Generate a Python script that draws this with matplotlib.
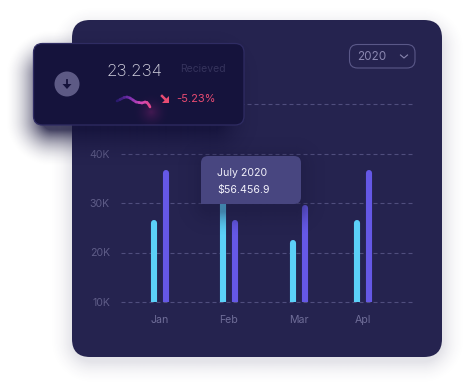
import numpy as np
import matplotlib
matplotlib.use('Agg')
import matplotlib.pyplot as plt
from matplotlib.collections import LineCollection
from matplotlib.colors import LinearSegmentedColormap
from matplotlib.patches import FancyBboxPatch, Circle, Polygon

plt.rcParams['font.family'] = ['Inter', 'DejaVu Sans']

# data
months = ['Jan', 'Feb', 'Mar', 'Apl']
cyan_vals = [26, 33, 22, 26]
purple_vals = [36, 26, 29, 36]
y_ticks = [10, 20, 30, 40, 50]
y_labels = ['10K', '20K', '30K', '40K', '50K']
year = '2020'
tip_title = 'July 2020'
tip_value = '$56.456.9'
card_value = '23.234'
card_label = 'Recieved'
card_change = '-5.23%'
squiggle_x = [117, 120, 124, 127, 130, 133, 136, 139, 142, 145, 147, 149, 150]
squiggle_y = [101, 99.5, 97.5, 97, 98, 100, 102, 102.5, 103, 102, 102.5, 105, 107]

# x centre of each month group, on the chart axis (same units as pixels)
group_x = [160, 229, 298.5, 363]
W, H = 465, 384
PANEL = '#25234f'
CARD = '#15133c'


def rr_dist(xx, yy, x0, y0, x1, y1, r):
    qx = np.abs(xx - (x0 + x1) / 2) - (x1 - x0) / 2 + r
    qy = np.abs(yy - (y0 + y1) / 2) - (y1 - y0) / 2 + r
    return np.hypot(np.maximum(qx, 0), np.maximum(qy, 0)) + np.minimum(np.maximum(qx, qy), 0) - r


def rounded(x0, y0, x1, y1, r, **kw):
    return FancyBboxPatch((x0 + r, y0 + r), x1 - x0 - 2 * r, y1 - y0 - 2 * r,
                          boxstyle='round,pad=%f,rounding_size=%f' % (r, r), **kw)


def overlay(ax, d, blur, alpha, color):
    a = alpha * np.clip(1 - d / blur, 0, 1) ** 2
    img = np.zeros((H, W, 4))
    img[..., :3] = matplotlib.colors.to_rgb(color)
    img[..., 3] = a
    ax.imshow(img, extent=(0, W, H, 0), zorder=1, interpolation='bilinear')


fig = plt.figure(figsize=(W / 100, H / 100), dpi=100, facecolor='white')
yy, xx = np.mgrid[0:H, 0:W] + 0.5


def pixel_axes(z):
    a = fig.add_axes([0, 0, 1, 1], zorder=z)
    a.set_xlim(0, W)
    a.set_ylim(H, 0)
    a.axis('off')
    a.patch.set_alpha(0)
    return a


# back layer: panel and its soft shadow
back = pixel_axes(1)
overlay(back, rr_dist(xx, yy, 72, 28, 442, 362, 20), 24, 0.13, '#33315a')
back.add_patch(rounded(72, 20, 442, 357, 18, fc=PANEL, ec='none', zorder=2))
back.add_patch(rounded(349.5, 44.5, 415, 68, 8, fc='none', ec='#5a5888', lw=0.8, zorder=3))
back.text(357, 56.5, year, color='#8a87b0', fontsize=8.4, va='center', ha='left', zorder=3)
back.plot([400.5, 404, 407.5], [55, 58, 55], color='#8a87b0', lw=0.8, zorder=3)

# chart
ax = fig.add_axes([121 / W, 1 - 302 / H, (415 - 121) / W, (302 - 104) / H], zorder=2)
ax.patch.set_alpha(0)
ax.set_xlim(121, 415)
ax.set_ylim(10, 50)
for s in ax.spines.values():
    s.set_visible(False)
ax.set_yticks(y_ticks)
ax.set_yticklabels(y_labels)
ax.set_xticks(group_x)
ax.set_xticklabels(months)
ax.tick_params(length=0, labelcolor='#5f5d88', labelsize=7.6)
ax.tick_params(axis='x', pad=9.5, labelcolor='#6f6d98')
ax.tick_params(axis='y', pad=8)
for t in y_ticks:
    ax.axhline(t, color='#504e7e', lw=0.8, dashes=(3.6, 2.7), clip_on=False, zorder=1)
for gx, c, p in zip(group_x, cyan_vals, purple_vals):
    # clipped at the axis, so only the top cap stays round
    ax.plot([gx - 6, gx - 6], [5, c], color='#5bd0f8', lw=4.4, solid_capstyle='round', zorder=2)
    ax.plot([gx + 6, gx + 6], [5, p], color='#6558e6', lw=4.4, solid_capstyle='round', zorder=2)

# front layer: tooltip and card with their shadows
front = pixel_axes(3)
overlay(front, rr_dist(xx, yy, 201, 160, 301, 212, 8), 26, 0.42, '#1b1940')
front.add_patch(rounded(201, 156, 301, 204, 7, fc='#484680', ec='none', zorder=3))
front.add_patch(plt.Rectangle((201, 190), 14, 14, fc='#484680', ec='none', zorder=3))
front.text(217, 173.5, tip_title, color='#f1f0fa', fontsize=7.6, va='center', zorder=4)
front.text(217, 190.5, tip_value, color='#f1f0fa', fontsize=7.6, va='center', zorder=4)

overlay(front, rr_dist(xx, yy, 42, 66, 222, 130, 10), 38, 0.8, '#14123a')
front.add_patch(rounded(33.5, 43.5, 244, 125, 9, fc=CARD, ec='#2f2c63', lw=0.9, zorder=3))

# glow under the squiggle
glow = np.zeros((H, W, 4))
glow[..., :3] = matplotlib.colors.to_rgb('#a0267f')
d = np.hypot(xx - 151, yy - 112)
glow[..., 3] = 0.33 * np.clip(1 - d / 20, 0, 1) ** 2
glow[..., 3] *= rr_dist(xx, yy, 34, 44, 244, 125, 9) < 0
front.imshow(glow, extent=(0, W, H, 0), zorder=4, interpolation='bilinear')

front.add_patch(Circle((67, 84), 12.5, fc='#5d5a85', ec='none', zorder=5))
front.plot([67, 67], [79.5, 87], color=CARD, lw=1.3, zorder=6)
front.add_patch(Polygon([[62.5, 84], [71.5, 84], [67, 89]], fc=CARD, ec='none', zorder=6))

front.text(107, 71.5, card_value, color='#d6d5e2', fontsize=12.2, va='center', fontweight='light', zorder=5)
front.text(180, 69.5, card_label, color='#35335c', fontsize=7.5, va='center', zorder=5)
front.text(176, 99.5, card_change, color='#e84b72', fontsize=8, va='center', zorder=5)

# squiggle with a purple to pink gradient
pts = np.column_stack([squiggle_x, squiggle_y])
segs = np.stack([pts[:-1], pts[1:]], axis=1)
cmap = LinearSegmentedColormap.from_list('sq', ['#2a1a6e', '#7a2fb0', '#d048b8', '#e24a8e'])
lc = LineCollection(segs, cmap=cmap, lw=1.9, capstyle='round', zorder=6)
lc.set_array(np.linspace(0, 1, len(segs)))
front.add_collection(lc)

# small arrow next to the percentage
front.add_patch(Polygon([[168.5, 95.5], [168.5, 102.5], [161.5, 102.5]], fc='#e84b72', ec='none', zorder=6))
front.plot([162, 166], [96, 100], color='#e84b72', lw=1.8, zorder=6)

fig.savefig('out.png', dpi=100, facecolor='white')
